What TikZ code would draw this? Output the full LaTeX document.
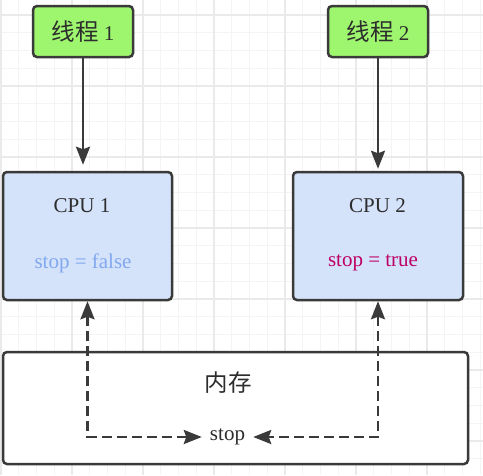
\documentclass[tikz,border=0pt]{standalone}
\usepackage{fontspec}
\setmainfont{Liberation Serif}
\newfontfamily\cjk[Scale=1.12]{Noto Sans CJK SC}
\usetikzlibrary{arrows.meta}
\definecolor{linec}{RGB}{58,58,58}
\definecolor{txtc}{RGB}{45,45,45}
\definecolor{greenf}{RGB}{158,246,110}
\definecolor{bluef}{RGB}{212,226,250}
\definecolor{falsec}{RGB}{130,168,240}
\definecolor{truec}{RGB}{190,0,100}
\definecolor{gthin}{RGB}{244,244,244}
\definecolor{gthick}{RGB}{234,234,234}
\tikzset{
  gridthin/.style={draw=gthin, line width=1pt},
  gridthick/.style={draw=gthick, line width=1.4pt},
  boxbase/.style={draw=linec, line width=2.5pt, rounded corners=4pt, inner sep=0pt},
  threadbox/.style={boxbase, fill=greenf, minimum width=100pt, minimum height=51pt, text=txtc},
  cpubox/.style={boxbase, fill=bluef, minimum width=170pt, minimum height=128pt},
  membox/.style={boxbase, fill=white, minimum width=465pt, minimum height=112pt},
  lbl/.style={inner sep=0pt, text=txtc},
  solidarr/.style={-{Stealth[length=18pt,width=14pt,inset=2.5pt]}, line width=2.5pt, draw=linec},
  dasharr/.style={{Stealth[length=18pt,width=14pt,inset=2.5pt]}-{Stealth[length=18pt,width=14pt,inset=2.5pt]}, line width=2.5pt, draw=linec, dash pattern=on 10pt off 5pt},
}
\begin{document}
\begin{tikzpicture}[x=1pt,y=-1pt,font=\fontsize{21}{25}\selectfont]
\useasboundingbox (0,0) rectangle (483,475);
\fill[white] (0,0) rectangle (483,475);
\begin{scope}
\clip (0,0) rectangle (483,475);
\foreach \k in {0,...,27} \draw[gridthin] ({1+17.75*\k},0) -- ++(0,475);
\foreach \k in {0,...,26} \draw[gridthin] (0,{15+17.75*\k}) -- ++(483,0);
\foreach \k in {0,...,6} \draw[gridthick] ({1+71*\k},0) -- ++(0,475);
\foreach \k in {0,...,6} \draw[gridthick] (0,{15+71*\k}) -- ++(483,0);
\end{scope}

\node[threadbox] (t1) at (83,31.5) {{\cjk 线程} 1};
\node[threadbox] (t2) at (378,31.5) {{\cjk 线程} 2};

\node[cpubox, minimum width=169pt] (c1) at (87.5,236) {};
\node[cpubox] (c2) at (378,236) {};
\node[lbl] (c1t) at (82,206) {CPU 1};
\node[lbl, text=falsec] (c1v) at (83,263) {stop = false};
\node[lbl] (c2t) at (377.5,206) {CPU 2};
\node[lbl, text=truec] (c2v) at (373,263) {stop = true};

\node[membox] (mem) at (235.5,408) {};
\node[lbl] (memt) at (228,383) {{\cjk 内存}};
\node[lbl, inner xsep=8pt] (stop) at (227.5,437) {stop};

\draw[solidarr, shorten >=6pt] (t1.south) -- (t1.south |- c1.north);
\draw[solidarr, shorten >=2pt] (t2.south) -- (t2.south |- c2.north);

\draw[dasharr] (c1.south) |- (stop.west);
\draw[dasharr] (c2.south) |- (stop.east);
\end{tikzpicture}
\end{document}
